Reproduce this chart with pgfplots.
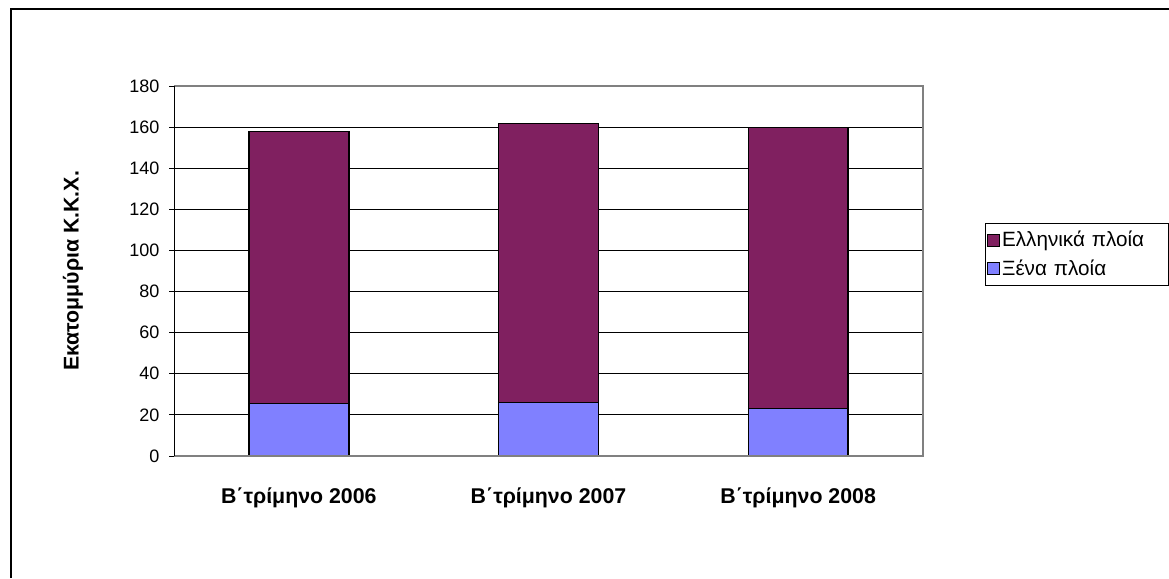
\documentclass[border=0pt]{standalone}
\usepackage{fontspec}
\setmainfont{Liberation Sans}
\usepackage{pgfplots}
\pgfplotsset{compat=1.18}
\definecolor{greekc}{RGB}{128,32,96}
\definecolor{foreignc}{RGB}{128,128,255}
\definecolor{bordergray}{RGB}{128,128,128}
\begin{document}
\begin{tikzpicture}
\path[use as bounding box] (0pt,0pt) rectangle (876.75pt,433.5pt);
\fill[white] (0pt,0pt) rectangle (876.75pt,433.5pt);
\draw[black, line width=1.1pt] (8.25pt,0pt) -- (8.25pt,426.75pt) -- (876.75pt,426.75pt);
\begin{axis}[
  at={(130.5pt,91.5pt)}, anchor=south west,
  width=561.75pt, height=277.5pt, scale only axis,
  ybar stacked, bar width=0.4,
  xmin=-0.5, xmax=2.5, ymin=0, ymax=180,
  xtick={0,1,2},
  xticklabels={\textbf{Β΄τρίμηνο 2006},\textbf{Β΄τρίμηνο 2007},\textbf{Β΄τρίμηνο 2008}},
  ytick={0,20,...,180},
  ytick pos=left,
  ymajorgrids, grid style={black, line width=0.6pt},
  axis line style={draw=none},
  xtick style={draw=none},
  ytick style={black, line width=0.6pt},
  tick align=outside, major tick length=3.5pt,
  /pgf/number format/assume math mode=true,
  yticklabel style={font=\fontsize{13.5}{16}\selectfont, anchor=east, xshift=-4pt},
  xticklabel style={font=\fontsize{16}{19}\selectfont, anchor=base, yshift=-32pt},
  ylabel={\textbf{Εκατομμύρια Κ.Κ.Χ.}},
  ylabel style={font=\fontsize{16}{19}\selectfont, at={(axis description cs:-0.135,0.5)}, anchor=center},
  legend style={at={(rel axis cs:1.0828,0.6297)}, anchor=north west, draw=black, line width=0.6pt,
    font=\fontsize{15.5}{18}\selectfont, inner xsep=1pt, inner ysep=5pt, row sep=6pt,
    nodes={inner xsep=1.5pt, inner ysep=1pt, text width=122pt, align=left}},
  legend cell align=left,
  reverse legend,
  legend image code/.code={\draw[#1, draw=black, line width=1pt] (0pt,-4.5pt) rectangle (9pt,4.5pt);},
  after end axis/.code={
    \draw[bordergray, line width=1.5pt] (rel axis cs:0,0) -- (rel axis cs:1,0) -- (rel axis cs:1,1) -- (rel axis cs:0,1);
    \draw[black, line width=0.75pt] (rel axis cs:0,0) -- (rel axis cs:0,1);
  },
]
\addplot[fill=foreignc, draw=black, line width=1.1pt] coordinates {(0,25.6) (1,26.1) (2,23.0)};
\addlegendentry{Ξένα πλοία}
\addplot[fill=greekc, draw=black, line width=1.1pt] coordinates {(0,132.2) (1,135.7) (2,136.7)};
\addlegendentry{Ελληνικά πλοία}
\end{axis}
\end{tikzpicture}
\end{document}
